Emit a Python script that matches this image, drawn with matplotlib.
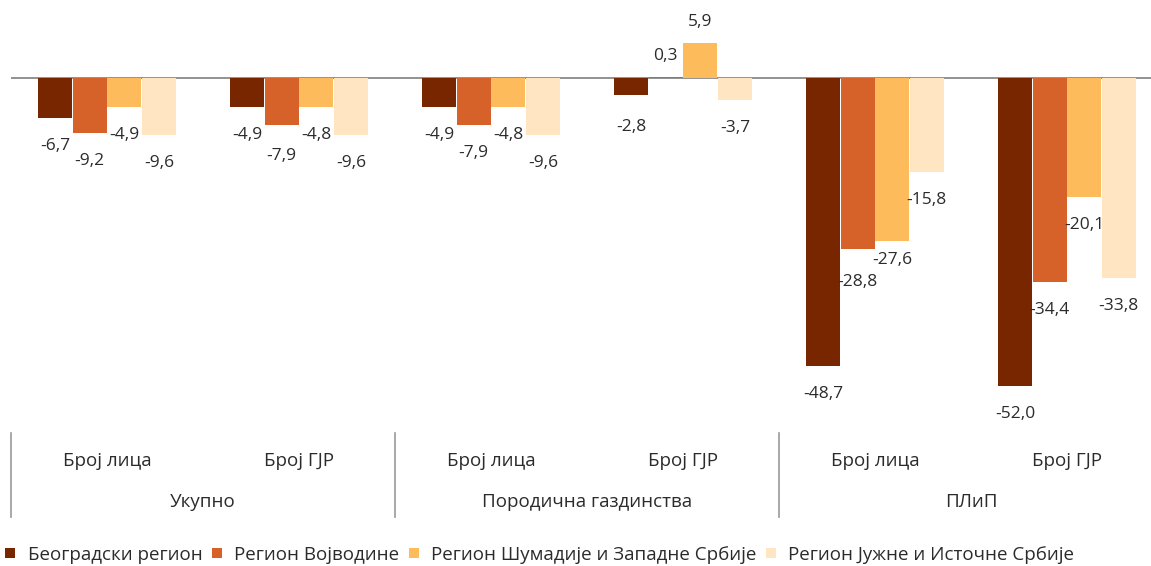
import matplotlib.pyplot as plt
import matplotlib.transforms as mtransforms
import numpy as np

plt.rcParams['font.family'] = ['Open Sans', 'DejaVu Sans']

series_names = ["Београдски регион", "Регион Војводине",
                "Регион Шумадије и Западне Србије", "Регион Јужне и Источне Србије"]
sub_labels = ["Број лица", "Број ГЈР", "Број лица", "Број ГЈР", "Број лица", "Број ГЈР"]
group_labels = ["Укупно", "Породична газдинства", "ПЛиП"]

beograd = [-6.7, -4.9, -4.9, -2.8, -48.7, -52.0]
vojvodina = [-9.2, -7.9, -7.9, 0.3, -28.8, -34.4]
sumadija = [-4.9, -4.8, -4.8, 5.9, -27.6, -20.1]
jug = [-9.6, -9.6, -9.6, -3.7, -15.8, -33.8]

colors = ['#782600', '#D66229', '#FDBB5C', '#FFE5C1']
text_color = '#2b2b2b'
fs_val = 12.5
fs_cat = 13.5

# label nudges (pixels below bar end) where Excel moved labels apart
nudge = {(4, 1): 33, (4, 2): 19, (3, 0): 32, (1, 1): 31}


def fmt(v):
    return f"{v:.1f}".replace('.', ',')


def draw():
    W, H = 1151, 566
    fig = plt.figure(figsize=(W / 100, H / 100), dpi=100)
    # axes: left at 11 px, 192 px per category, top 0 px, bottom 430 px
    ax = fig.add_axes([11 / W, 1 - 430 / H, 1152 / W, 430 / H])
    ax.set_xlim(-0.5, 5.5)
    ax.set_ylim(-59.5, 13.25)
    ax.axis('off')

    x = np.arange(len(sub_labels))
    step = 0.18
    bars = []
    for i, vals in enumerate([beograd, vojvodina, sumadija, jug]):
        pos = x + (i - 1.5) * step
        b = ax.bar(pos, vals, step - 0.004, color=colors[i], linewidth=0,
                   label=series_names[i], zorder=2)
        bars.append(b)
        for g, (px, v) in enumerate(zip(pos, vals)):
            off = 21 if v >= 0 else -nudge.get((g, i), 28)
            ax.annotate(fmt(v), (px, v), xytext=(0, off), textcoords='offset pixels',
                        ha='center', va='center', fontsize=fs_val, color=text_color)

    ax.axhline(0, color='#898989', linewidth=1.3, zorder=1.5)

    # category axis (two levels)
    trans = mtransforms.blended_transform_factory(ax.transData, fig.transFigure)
    for xi, lab in zip(x, sub_labels):
        fig.text(xi, 1 - 461 / H, lab, transform=trans, ha='center', va='center',
                 fontsize=fs_cat, color=text_color)
    for gi, lab in enumerate(group_labels):
        fig.text(2 * gi + 0.5, 1 - 502 / H, lab, transform=trans, ha='center',
                 va='center', fontsize=fs_cat, color=text_color)
    for sx in [-0.5, 1.5, 3.5]:
        fig.add_artist(plt.Line2D([sx, sx], [1 - 433 / H, 1 - 517 / H], transform=trans,
                                  color='#999999', linewidth=1.2))

    fig.legend(handles=bars, labels=series_names, loc='center left',
               bbox_to_anchor=(5 / W, 1 - 555 / H), ncol=4, frameon=False,
               fontsize=fs_cat, handlelength=0.55, handleheight=0.45,
               handletextpad=0.65, columnspacing=0.5, borderpad=0,
               borderaxespad=0, labelcolor=text_color)

    fig.savefig("out.png", dpi=100)


if __name__ == "__main__":
    draw()
